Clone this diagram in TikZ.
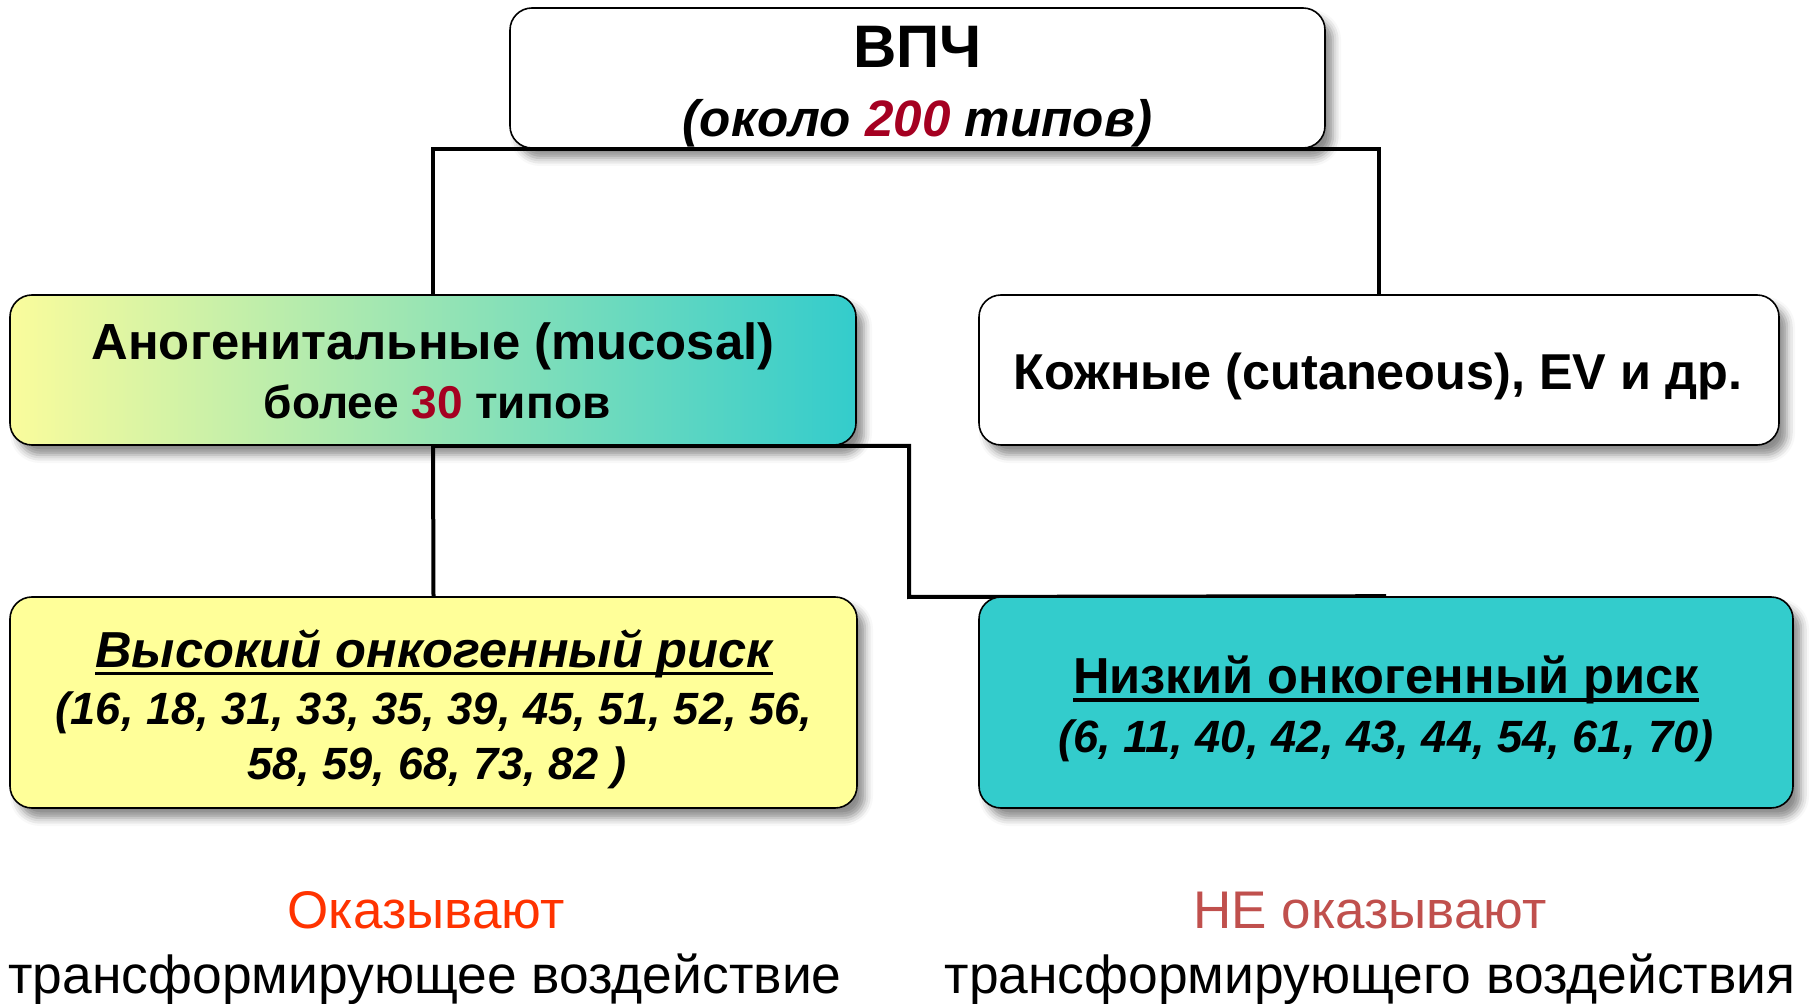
\documentclass[tikz,border=0pt]{standalone}
\usepackage{fontspec}
\setmainfont{Liberation Sans}
\usetikzlibrary{shadows.blur}
\pgfdeclarelayer{bg}
\pgfsetlayers{bg,main}
\definecolor{numred}{RGB}{165,0,33}
\definecolor{boxyellow}{RGB}{255,255,153}
\definecolor{boxteal}{RGB}{51,204,204}
\definecolor{gradyellow}{RGB}{250,252,156}
\definecolor{orangered}{RGB}{255,51,0}
\definecolor{mutedred}{RGB}{192,80,77}
\newcommand\myul[1]{\setbox0\hbox{#1}\rlap{\rule[-3.8pt]{\wd0}{1.6pt}}\box0}
\tikzset{
  box/.style={draw=black, line width=0.8pt, rounded corners=11pt, inner sep=0pt,
    blur shadow={shadow xshift=4pt, shadow yshift=-5pt, shadow blur radius=4pt, shadow opacity=45}},
  conn/.style={draw=black, line width=2pt},
  txt/.style={anchor=base, inner sep=0pt}
}
\begin{document}
\begin{tikzpicture}[x=0.5pt,y=-0.5pt]
\useasboundingbox (0,0) rectangle (1814,1004);

% boxes
\node[box, fill=white, minimum width=407.5pt, minimum height=70pt] (top) at (917.5,78) {};
\node[box, left color=gradyellow, right color=boxteal, minimum width=423pt, minimum height=75pt] (ano) at (433,370) {};
\node[box, fill=white, minimum width=400pt, minimum height=75pt] (cut) at (1379,370) {};
\node[box, fill=boxyellow, minimum width=423.5pt, minimum height=105.5pt] (high) at (433.5,702.5) {};
\node[box, fill=boxteal, minimum width=407pt, minimum height=105.5pt] (low) at (1386,702.5) {};

% box texts
\node[txt, font=\bfseries\fontsize{30}{36}\selectfont] (topt1) at (917.5,68) {ВПЧ};
\node[txt, font=\bfseries\itshape\fontsize{25.6}{30}\selectfont] (topt2) at (917.5,137)
  {(около \textcolor{numred}{200} типов)};

\node[txt, font=\bfseries\fontsize{25.4}{30}\selectfont] (anot1) at (433,360) {Аногенитальные (mucosal)};
\node[txt, font=\bfseries\fontsize{23}{28}\selectfont] (anot2) at (437,419)
  {более \textcolor{numred}{30} типов};

\node[txt, font=\bfseries\fontsize{25.2}{30}\selectfont] (cutt) at (1378,390) {Кожные (cutaneous), EV и др.};

\node[txt, font=\bfseries\itshape\fontsize{25.3}{30}\selectfont] (hight1) at (434,667.5)
  {\myul{Высокий онкогенный риск}};
\node[txt, font=\bfseries\itshape\fontsize{22.6}{28}\selectfont] (hight2) at (434,725)
  {(16, 18, 31, 33, 35, 39, 45, 51, 52, 56,};
\node[txt, font=\bfseries\itshape\fontsize{22.6}{28}\selectfont] (hight3) at (437,779)
  {58, 59, 68, 73, 82 )};

\node[txt, font=\bfseries\fontsize{25.3}{30}\selectfont] (lowt1) at (1386,694)
  {\myul{Низкий онкогенный риск}};
\node[txt, font=\bfseries\itshape\fontsize{22.6}{28}\selectfont] (lowt2) at (1386,752)
  {(6, 11, 40, 42, 43, 44, 54, 61, 70)};

\coordinate (elb) at (909,597);

\begin{pgfonlayer}{bg}
  \draw[conn] (top.south) -| (ano.north);
  \draw[conn] (top.south) -| (cut.north);
  \draw[conn] (ano.south) -- (high.north);
  \draw[conn] (ano.south) -| (elb) -- (low.north);
\end{pgfonlayer}

\node[txt, text=orangered, font=\fontsize{26.5}{30}\selectfont] (yes1) at (426,928) {Оказывают};
\node[txt, font=\fontsize{26.7}{30}\selectfont] (yes2) at (425,993) {трансформирующее воздействие};
\node[txt, text=mutedred, font=\fontsize{26.5}{30}\selectfont] (no1) at (1370,928) {НЕ оказывают};
\node[txt, font=\fontsize{26.7}{30}\selectfont] (no2) at (1370,993) {трансформирующего воздействия};
\end{tikzpicture}
\end{document}
